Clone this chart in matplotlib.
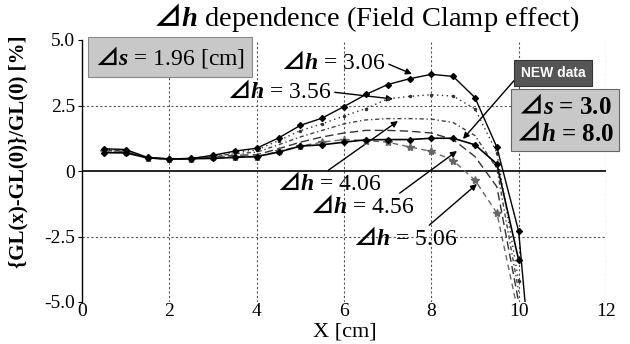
import numpy as np
import matplotlib
matplotlib.use('Agg')
import matplotlib.pyplot as plt

plt.rcParams['font.family'] = ['Liberation Serif', 'Noto Sans CJK JP', 'DejaVu Sans']
plt.rcParams['mathtext.fontset'] = 'custom'
plt.rcParams['mathtext.it'] = 'Liberation Serif:italic:bold'
plt.rcParams['mathtext.rm'] = 'Liberation Serif'
plt.rcParams['mathtext.sf'] = 'Noto Sans CJK JP:bold'

# positions along X [cm]
x = [0.5, 1.0, 1.5, 2.0, 2.5, 3.0, 3.5, 4.0, 4.5, 5.0,
     5.5, 6.0, 6.5, 7.0, 7.5, 8.0, 8.5, 9.0, 9.5, 10.0]

# {GL(x)-GL(0)}/GL(0) [%] for each dh
dh_306 = [0.85, 0.82, 0.52, 0.46, 0.48, 0.60, 0.76, 0.87, 1.26, 1.74,
          2.02, 2.46, 2.92, 3.30, 3.52, 3.69, 3.61, 2.80, 0.91, -2.3]
dh_356 = [0.82, 0.80, 0.50, 0.45, 0.47, 0.58, 0.72, 0.80, 1.16, 1.54,
          1.80, 2.10, 2.38, 2.75, 2.85, 2.91, 2.86, 2.37, 0.70, -4.2]
dh_406 = [0.80, 0.78, 0.50, 0.45, 0.47, 0.56, 0.66, 0.72, 1.00, 1.30,
          1.55, 1.80, 1.95, 2.00, 2.00, 1.98, 1.85, 1.35, 0.10, -4.6]
dh_456 = [0.78, 0.75, 0.50, 0.45, 0.46, 0.54, 0.60, 0.62, 0.85, 1.10,
          1.30, 1.45, 1.55, 1.55, 1.52, 1.45, 1.20, 0.55, -0.60, -5.0]
dh_506 = [0.75, 0.72, 0.50, 0.45, 0.46, 0.52, 0.55, 0.55, 0.75, 0.95,
          1.10, 1.20, 1.16, 1.10, 0.92, 0.75, 0.40, -0.35, -1.6, -5.5]
new_data = [0.70, 0.69, 0.50, 0.46, 0.47, 0.48, 0.52, 0.55, 0.72, 0.95,
            1.00, 1.10, 1.19, 1.20, 1.20, 1.25, 1.25, 1.00, 0.27, -3.4]

# tail of the steepest drop below the axis
x_tail = [10.0, 10.2]
y_tail = [-2.3, -6.0]

xticks = [0, 2, 4, 6, 8, 10, 12]
yticks = [5.0, 2.5, 0, -2.5, -5.0]
ytick_labels = ['5.0', '2.5', '0', '-2.5', '-5.0']

DH = '$\\mathsf{\u22bf}\\mathit{h}$'
DS = '$\\mathsf{\u22bf}\\mathit{s}$'

fig = plt.figure(figsize=(6.3, 3.44), dpi=100)
ax = fig.add_axes([82/630, 42/344, 524/630, 262/344])
ax.set_xlim(0, 12)
ax.set_ylim(-5, 5)

# grid
for gx in [2, 4, 6, 8, 10, 12]:
    ax.axvline(gx, color='#555555', lw=0.8, ls=(0, (2, 2)), zorder=1)
for gy in [2.5, -2.5]:
    ax.axhline(gy, color='#555555', lw=0.8, ls=(0, (2, 2)), zorder=1)
ax.axhline(0, color='black', lw=1.2, zorder=2)

for s in ['top', 'right', 'bottom']:
    ax.spines[s].set_visible(False)
ax.spines['left'].set_linewidth(1.0)

ax.set_xticks(xticks)
ax.set_yticks(yticks)
ax.set_yticklabels(ytick_labels)
ax.tick_params(axis='x', length=0, labelsize=14, pad=1)
ax.tick_params(axis='y', length=3, labelsize=14, pad=2)

# curves
ax.plot(x, dh_306, color='black', lw=1.0, marker='D', ms=3, zorder=5)
ax.plot(x_tail, y_tail, color='black', lw=1.0, zorder=5, clip_on=True)
ax.plot(x, dh_356, color='#333333', lw=1.0, ls=(0, (1, 2.5)), marker='.', ms=3, zorder=4)
ax.plot(x, dh_406, color='#444444', lw=1.0, ls=(0, (3, 2, 1, 2)), zorder=4)
ax.plot(x, dh_456, color='#333333', lw=1.0, ls=(0, (6, 3)), zorder=4)
ax.plot(x, dh_506, color='#666666', lw=1.0, ls=(0, (4, 3)), marker='*', ms=6, zorder=4)
ax.plot(x, new_data, color='black', lw=1.2, marker='D', ms=3, zorder=6)

# title and labels
fig.text(366/630, 1 - 18/344, DH + ' dependence (Field Clamp effect)', ha='center', va='center',
         fontsize=20.5)
fig.text(345/630, 1 - 332/344, 'X [cm]', ha='center', va='center', fontsize=16)
fig.text(18/630, 1 - 152/344, '{GL(x)-GL(0)}/GL(0) [%]', ha='center', va='center',
         rotation=90, fontsize=15, fontweight='bold')


def px(xp, yp):
    return ((xp - 82) / 43.67, (172 - yp) / 26.2)


ax.text(*px(170, 58), DS + ' = 1.96 [cm]', ha='center', va='center', fontsize=17,
        bbox=dict(boxstyle='square,pad=0.3', fc='#c8c8c8', ec='#888888', lw=0.8))

arrow = dict(arrowstyle='-|>', color='black', lw=1.0, mutation_scale=9,
             shrinkA=0, shrinkB=0)

ax.annotate(DH + ' = 3.06', xy=px(412, 75), xytext=px(386, 64), ha='right', va='center',
            fontsize=17, arrowprops=dict(arrow, relpos=(1, 0.5)))
ax.annotate(DH + ' = 3.56', xy=px(393, 100), xytext=px(332, 93), ha='right', va='center',
            fontsize=17, arrowprops=dict(arrow, relpos=(1, 0.5)))
ax.annotate(DH + ' = 4.06', xy=px(398, 122), xytext=px(277, 185), ha='left', va='center',
            fontsize=17, arrowprops=dict(arrow, relpos=(0.38, 0.75)))
ax.annotate(DH + ' = 4.56', xy=px(457, 152), xytext=px(310, 208), ha='left', va='center',
            fontsize=17, arrowprops=dict(arrow, relpos=(0.75, 0.75)))
ax.annotate(DH + ' = 5.06', xy=px(477, 185), xytext=px(353, 240), ha='left', va='center',
            fontsize=17, arrowprops=dict(arrow, relpos=(0.65, 0.8)))

ax.annotate('NEW data', xy=px(463, 140), xytext=px(553, 74), ha='center', va='center',
            fontsize=10, fontweight='bold', color='white', family=['Liberation Sans'],
            bbox=dict(boxstyle='square,pad=0.45', fc='#555555', ec='#333333', lw=0.8),
            arrowprops=dict(arrow, relpos=(0, 0.5)))

ax.text(*px(565, 121), DS + ' = 3.0\n' + DH + ' = 8.0',
        ha='center', va='center', fontsize=18, fontweight='bold', linespacing=1.1,
        bbox=dict(boxstyle='square,pad=0.2', fc='#c8c8c8', ec='#666666', lw=0.8))

fig.savefig('out.png', dpi=100)
